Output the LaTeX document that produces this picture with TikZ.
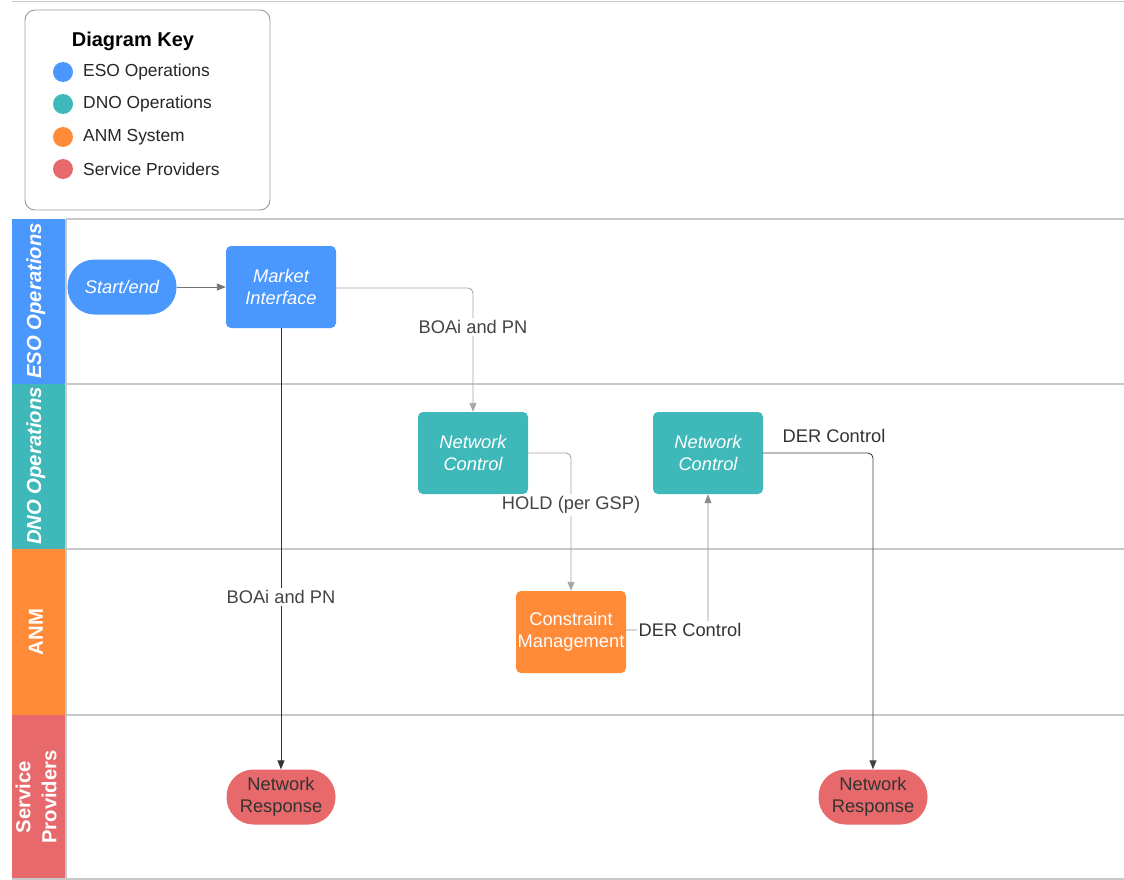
\documentclass[tikz,border=0pt]{standalone}
\usepackage{fontspec}
\setmainfont{Liberation Sans}
\usetikzlibrary{arrows.meta}
\definecolor{esoblue}{HTML}{4A97FE}
\definecolor{dnoteal}{HTML}{3EB8B8}
\definecolor{anmorange}{HTML}{FF8A38}
\definecolor{spred}{HTML}{E8696B}
\definecolor{lanegray}{HTML}{C8C8C8}
\definecolor{textgray}{HTML}{444444}
\tikzset{
  x=1pt, y=-1pt,
  every node/.style={font=\fontsize{18.3}{22}\selectfont, inner sep=1pt},
  procbox/.style={rectangle, rounded corners=5pt, minimum width=110pt,
    minimum height=82pt, align=center, text=white},
  termbox/.style={rectangle, rounded corners=27pt, minimum width=109pt,
    minimum height=55pt, align=center},
  lanehead/.style={rotate=90, text=white, align=center,
    font=\fontsize{20.3}{24}\selectfont\bfseries},
  flow/.style={line width=0.9pt, rounded corners=5pt,
    -{Triangle[length=9pt,width=7pt]}},
  flowlabel/.style={fill=white, text=textgray, inner sep=2pt},
}
\begin{document}
\begin{tikzpicture}
\useasboundingbox (0,0) rectangle (1124,880);
\fill[white] (0,0) rectangle (1124,880);

% pool outline
\draw[lanegray, line width=1.2pt] (12,1.5) -- (1124,1.5);

% legend
\draw[gray!80, line width=0.9pt, rounded corners=10pt] (25,10) rectangle (270,210);
\node[font=\fontsize{20}{24}\selectfont\bfseries] (keytitle) at (133,41) {Diagram Key};
\foreach \c/\t/\y/\n in {esoblue/ESO Operations/72/ka, dnoteal/DNO Operations/104/kb,
    anmorange/ANM System/137/kc, spred/Service Providers/169/kd} {
  \fill[\c] (63,\y) circle (10pt);
  \node[anchor=west, text=black!85, font=\fontsize{17.4}{20}\selectfont] (\n) at (82,\y) {\t};
}

% lane headers
\fill[esoblue]   (12,219) rectangle (65,384);
\fill[dnoteal]   (12,384) rectangle (65,549);
\fill[anmorange] (12,549) rectangle (65,715);
\fill[spred]     (12,715) rectangle (65,880);
\draw[lanegray, line width=1.5pt] (66,219) -- (66,880);
\foreach \y in {219,384,549,715} {
  \draw[lanegray, line width=1.3pt] (66,\y) -- (1124,\y);
}
\draw[lanegray, line width=1.3pt] (12,879) -- (1124,879);
\node[lanehead] (hdeso) at (36,301) {\itshape ESO Operations};
\node[lanehead] (hddno) at (36,466) {\itshape DNO Operations};
\node[lanehead] (hdanm) at (36,632) {ANM};
\node[lanehead, font=\fontsize{20.3}{26}\selectfont\bfseries] (hdsp) at (36,797) {Service\\Providers};

% process nodes
\node[termbox, fill=esoblue, text=white, font=\fontsize{18.3}{22}\selectfont\itshape] (start) at (122,287) {Start/end};
\node[procbox, fill=esoblue, font=\fontsize{18.3}{22}\selectfont\itshape] (market) at (281,287) {Market\\Interface};
\node[procbox, fill=dnoteal, font=\fontsize{18.3}{22}\selectfont\itshape] (nc1) at (473,453) {Network\\Control};
\node[procbox, fill=dnoteal, font=\fontsize{18.3}{22}\selectfont\itshape] (nc2) at (708,453) {Network\\Control};
\node[procbox, fill=anmorange] (cm) at (571,632) {Constraint\\Management};
\node[termbox, fill=spred, text=black!80] (nr1) at (281,797) {Network\\Response};
\node[termbox, fill=spred, text=black!80] (nr2) at (873,797) {Network\\Response};

% connectors
\coordinate (c1) at (473,288);
\coordinate (c2) at (571,453);
\coordinate (c3) at (708,630);
\coordinate (c4) at (873,453);

\draw[flow, draw=black!55] (start.east) -- (start.east -| market.west);
\draw[flow, draw=black!35] (market.east |- c1) -- (c1) -- (nc1.north);
\draw[flow, draw=black!80] (market.south) -- (nr1.north);
\draw[flow, draw=black!35] (nc1.east |- c2) -- (c2) -- (cm.north);
\draw[flow, draw=black!45] (cm.east |- c3) -- (c3) -- (nc2.south);
\draw[flow, draw=black!75] (nc2.east |- c4) -- (c4) -- (nr2.north);

% connector labels
\node[flowlabel] (lb1) at (473,327) {BOAi and PN};
\node[flowlabel] (lb2) at (281,597) {BOAi and PN};
\node[flowlabel] (lb3) at (571,505) {HOLD (per GSP)};
\node[flowlabel, text=black!80] (lb4) at (690,630) {DER Control};
\node[flowlabel, text=black!80] (lb5) at (834,436) {DER Control};
\end{tikzpicture}
\end{document}
